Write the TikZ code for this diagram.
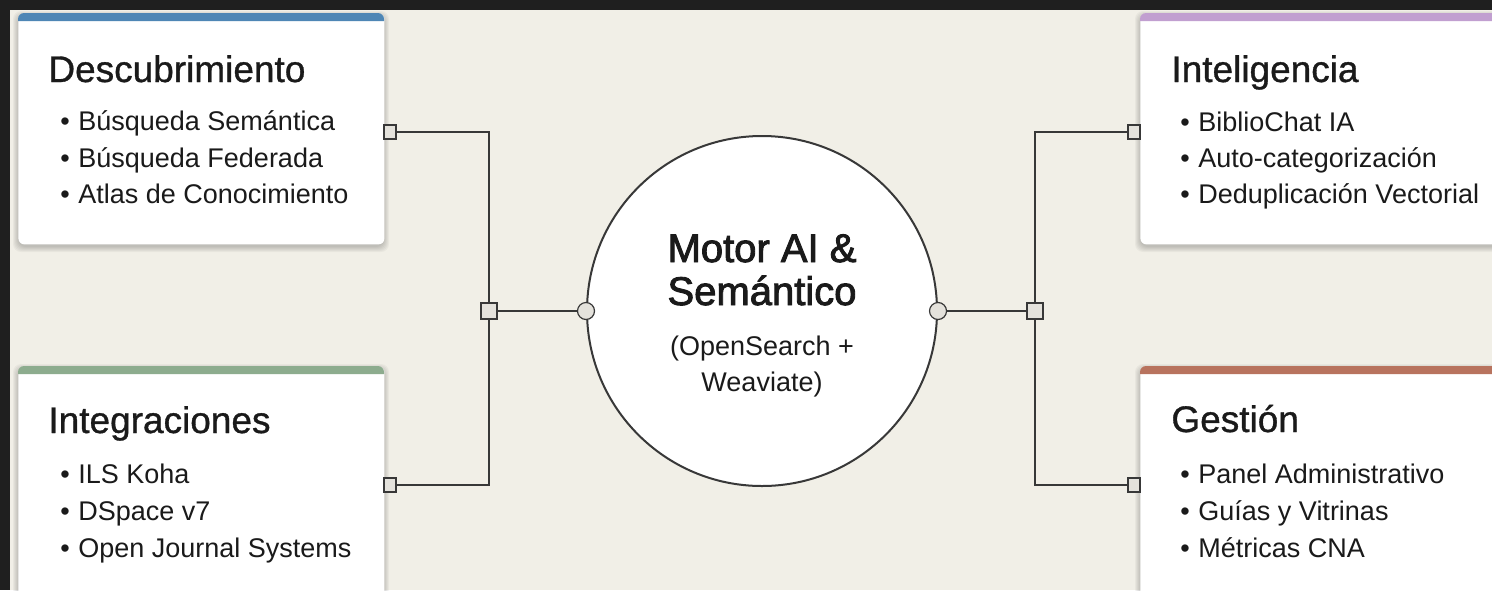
\documentclass[tikz,border=0pt]{standalone}
\usepackage{fontspec}
\setmainfont{Liberation Sans}
\newfontfamily\semib[FakeBold=2.2]{Liberation Sans}
\newfontfamily\medf[FakeBold=0.9]{Liberation Sans}
\definecolor{bgc}{HTML}{F1EFE7}
\definecolor{framec}{HTML}{1F1F1F}
\definecolor{ink}{HTML}{1A1A1A}
\definecolor{wirec}{HTML}{383838}
\definecolor{portc}{HTML}{E4E2DC}
\definecolor{barblue}{HTML}{4E86B5}
\definecolor{bargreen}{HTML}{8DAC8E}
\definecolor{barpurple}{HTML}{C19FD0}
\definecolor{barterra}{HTML}{B8735E}
\tikzset{
  card/.style={fill=white, rounded corners=3pt, minimum width=183pt, inner sep=0pt, anchor=north west},
  shade1/.style={fill=black, fill opacity=0.035},
  ctitle/.style={anchor=base west, inner sep=0pt, text=ink, font=\medf\fontsize{18.5}{22}\selectfont},
  item/.style={anchor=base west, inner sep=0pt, text=ink, font=\fontsize{13.5}{16}\selectfont},
  wire/.style={draw=wirec, line width=1pt},
  port/.style={draw=wirec, fill=portc, line width=0.6pt, minimum width=6pt, minimum height=7pt, inner sep=0pt},
  junc/.style={draw=wirec, fill=portc, line width=0.6pt, minimum size=8pt, inner sep=0pt},
  knob/.style={circle, draw=wirec, fill=portc, line width=0.6pt, minimum size=8.5pt, inner sep=0pt},
  core/.style={circle, draw=wirec, fill=white, line width=1pt, minimum size=175pt, inner sep=0pt},
  coretext/.style={inner sep=0pt, text=ink}
}
\newcommand{\bul}[1]{\makebox[9pt][l]{•}#1}
% soft shadow: x1 y1 x2 y2 (px, y down)
\newcommand{\softshadow}[4]{%
  \foreach \s in {1,2,...,6}{%
    \fill[shade1, rounded corners=4pt] (#1-\s+1,#2-\s+4) rectangle (#3+\s-1,#4+\s+2);}}
\begin{document}
\begin{tikzpicture}[x=0.5pt,y=-0.5pt]
\useasboundingbox (0,0) rectangle (1492,590);
\fill[framec] (0,0) rectangle (1492,590);
\fill[bgc] (10,10) rectangle (1492,590);
\begin{scope}
\clip (10,10) rectangle (1492,590);
% shadows
\softshadow{18}{13}{384}{244}
\softshadow{18}{366}{384}{640}
\softshadow{1140}{13}{1540}{244}
\softshadow{1140}{366}{1540}{640}
\foreach \s in {1,2,...,6}{\fill[shade1] (762,315) circle [radius=0.5*175+0.5*\s];}
% cards
\node[card, minimum height=115.5pt] (desc) at (18,13) {};
\node[card, minimum height=130pt] (integ) at (18,366) {};
\node[card, minimum width=200pt, minimum height=115.5pt] (intel) at (1140,13) {};
\node[card, minimum width=200pt, minimum height=130pt] (gest) at (1140,366) {};
% top bars
\fill[barblue] (18,21) [rounded corners=3pt] -- (18,13) -- (384,13) [sharp corners] -- (384,21) -- cycle;
\fill[bargreen] (18,374) [rounded corners=3pt] -- (18,366) -- (384,366) [sharp corners] -- (384,374) -- cycle;
\fill[barpurple] (1140,21) [rounded corners=3pt] -- (1140,13) -- (1540,13) [sharp corners] -- (1540,21) -- cycle;
\fill[barterra] (1140,374) [rounded corners=3pt] -- (1140,366) -- (1540,366) [sharp corners] -- (1540,374) -- cycle;
\end{scope}
% card texts
\node[ctitle] (desc-t) at (48,82) {Descubrimiento};
\node[item] (desc-1) at (60,130) {\bul{Búsqueda Semántica}};
\node[item] (desc-2) at (60,167) {\bul{Búsqueda Federada}};
\node[item] (desc-3) at (60,203) {\bul{Atlas de Conocimiento}};
\node[ctitle] (integ-t) at (48,433) {Integraciones};
\node[item] (integ-1) at (60,483) {\bul{ILS Koha}};
\node[item] (integ-2) at (60,520) {\bul{DSpace v7}};
\node[item] (integ-3) at (60,557) {\bul{Open Journal Systems}};
\node[ctitle] (intel-t) at (1171,82) {Inteligencia};
\node[item] (intel-1) at (1180,131) {\bul{BiblioChat IA}};
\node[item] (intel-2) at (1180,167) {\bul{Auto-categorización}};
\node[item] (intel-3) at (1180,203) {\bul{Deduplicación Vectorial}};
\node[ctitle] (gest-t) at (1171,432) {Gestión};
\node[item] (gest-1) at (1180,483) {\bul{Panel Administrativo}};
\node[item] (gest-2) at (1180,520) {\bul{Guías y Vitrinas}};
\node[item] (gest-3) at (1180,557) {\bul{Métricas CNA}};
% core
\node[core] (core) at (762,311) {};
\node[coretext, anchor=base, font=\semib\fontsize{20}{24}\selectfont] (core-1) at (762,262) {Motor AI \&};
\node[coretext, anchor=base, font=\semib\fontsize{20}{24}\selectfont] (core-2) at (762,305) {Semántico};
\node[coretext, anchor=base, font=\fontsize{13.5}{16}\selectfont] (core-3) at (762,355) {(OpenSearch +};
\node[coretext, anchor=base, font=\fontsize{13.5}{16}\selectfont] (core-4) at (762,391) {Weaviate)};
% ports
\node[port] (pd) at (390,132) {};
\node[port] (pi) at (390,485) {};
\node[port] (pt) at (1134,132) {};
\node[port] (pg) at (1134,485) {};
\node[junc] (jl) at (489,311) {};
\node[junc] (jr) at (1035,311) {};
\node[knob] (cl) at (core.west) {};
\node[knob] (cr) at (core.east) {};
% wires
\draw[wire] (pd.east) -| (jl.north);
\draw[wire] (pi.east) -| (jl.south);
\draw[wire] (jl.east) -- (cl.west);
\draw[wire] (pt.west) -| (jr.north);
\draw[wire] (pg.west) -| (jr.south);
\draw[wire] (jr.west) -- (cr.east);
\end{tikzpicture}
\end{document}
